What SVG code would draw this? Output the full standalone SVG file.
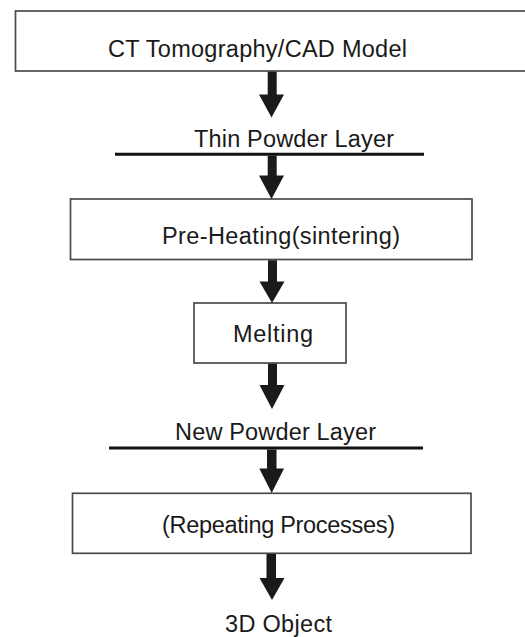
<svg xmlns="http://www.w3.org/2000/svg" width="525" height="637" viewBox="0 0 525 637">
<style>
.box{fill:#fff;stroke:#4a4a4a;stroke-width:1.7}
.lbl{font-family:"Liberation Sans",Arial,sans-serif;font-size:23.5px;fill:#1a1a1a}
.layer{stroke:#111;stroke-width:3}
.arr{fill:#1a1a1a;stroke:none}
</style>
<rect x="0" y="0" width="525" height="637" fill="#fff"/>
<g id="n1">
<rect class="box" x="15.5" y="11" width="520" height="60"/>
<text class="lbl" x="108" y="57" textLength="299" lengthAdjust="spacing">CT Tomography/CAD Model</text>
</g>
<g id="n2">
<text class="lbl" x="194" y="147" textLength="200" lengthAdjust="spacing">Thin Powder Layer</text>
<line class="layer" x1="115" y1="154.3" x2="424" y2="154.3"/>
</g>
<g id="n3">
<rect class="box" x="70.5" y="199" width="401.5" height="60.5"/>
<text class="lbl" x="162" y="243.5" textLength="238" lengthAdjust="spacing">Pre-Heating(sintering)</text>
</g>
<g id="n4">
<rect class="box" x="194" y="303" width="152" height="60"/>
<text class="lbl" x="233" y="342" textLength="80" lengthAdjust="spacing">Melting</text>
</g>
<g id="n5">
<text class="lbl" x="175" y="440" textLength="201" lengthAdjust="spacing">New Powder Layer</text>
<line class="layer" x1="109" y1="448" x2="423" y2="448"/>
</g>
<g id="n6">
<rect class="box" x="72.5" y="493.3" width="398.5" height="60"/>
<text class="lbl" x="162" y="533" textLength="233" lengthAdjust="spacing">(Repeating Processes)</text>
</g>
<g id="n7">
<text class="lbl" x="225" y="632" textLength="107" lengthAdjust="spacing">3D Object</text>
</g>
<g id="connectors" class="arr">
<path d="M267.7,71.8 H276.7 V94.5 H284 L271.5,117.5 L259,94.5 H267.7 Z"/>
<path d="M267.7,155.5 H276.7 V175.5 H284 L271.5,199 L259,175.5 H267.7 Z"/>
<path d="M268,260.3 H277 V281.5 H284.5 L272,303 L259.5,281.5 H268 Z"/>
<path d="M268,363.8 H277 V385 H284.5 L272,409 L259.5,385 H268 Z"/>
<path d="M267,449.5 H276.5 V468.5 H284 L271.7,493 L259.3,468.5 H267 Z"/>
<path d="M266.5,554 H276 V578 H284.5 L272,600 L259.5,578 H266.5 Z"/>
</g>
</svg>
